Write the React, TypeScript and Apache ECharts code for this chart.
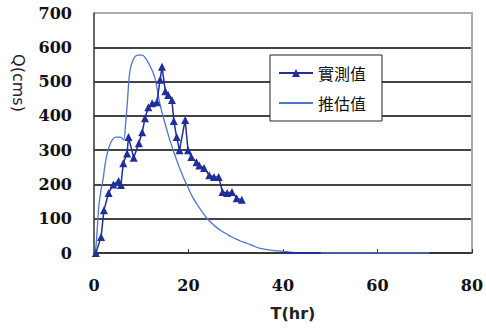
import React, { useEffect, useRef } from "react";
import * as echarts from "echarts";

const obsX = [0.4, 1.5, 2.1, 3.1, 4.1, 5.2, 5.7, 6.2, 7.0, 7.3, 8.4, 9.5, 10.2, 10.8, 11.5, 12.3, 13.3, 14.0, 14.4, 15.1, 15.7, 16.5, 16.9, 17.5, 18.1, 19.3, 19.9, 20.6, 21.7, 22.3, 23.3, 24.4, 25.4, 26.4, 27.2, 28.2, 29.2, 30.2, 31.3];
const obsY = [0, 47, 125, 175, 200, 210, 198, 262, 290, 338, 278, 320, 352, 393, 425, 437, 440, 505, 543, 472, 461, 446, 385, 338, 300, 388, 300, 280, 265, 255, 248, 227, 222, 222, 178, 175, 178, 160, 155];

const tailX = [40, 48];
const tailY = [0, 0];

const estX = [0, 0.4, 1.0, 1.5, 1.9, 2.5, 3.5, 4.6, 5.6, 6.3, 6.7, 7.1, 7.5, 8.1, 9.2, 10.2, 11.2, 12.3, 13, 14, 15, 16, 17, 18, 19, 20, 21, 22, 23, 24, 25, 26, 27, 28, 29, 30, 31, 32, 33, 34, 35, 36, 37, 38, 40, 42, 45, 48, 71];
const estY = [0, 17, 134, 185, 213, 271, 320, 338, 338, 330, 379, 446, 520, 557, 577, 577, 562, 533, 505, 432, 380, 332, 290, 252, 218, 188, 160, 138, 118, 100, 86, 74, 64, 56, 48, 41, 35, 30, 25, 19, 14, 11, 9, 7, 5, 2, 1, 0, 0];

const seriesNames = ["實測值", "推估值"];
const yTitle = "Q(cms)";
const xTitle = "T(hr)";

export default function App() {
  const ref = useRef<HTMLDivElement>(null);
  useEffect(() => {
    document.body.style.margin = "0";
    const chart = echarts.init(ref.current!, null, { renderer: "svg" });
    const labelFont = { fontFamily: "DejaVu Serif", fontWeight: "bold" as const, fontSize: 16, color: "#111" };
    chart.setOption({
      animation: false,
      backgroundColor: "#fff",
      grid: { left: 94, right: 9, top: 13, bottom: 76 },
      xAxis: {
        type: "value",
        min: 0,
        max: 80,
        interval: 20,
        axisLine: { show: true, onZero: false, lineStyle: { color: "#333", width: 1.5 } },
        axisTick: { show: true, inside: true, length: 4, lineStyle: { color: "#333" } },
        splitLine: { show: false },
        axisLabel: { ...labelFont, margin: 24 },
      },
      yAxis: [
        {
          type: "value",
          min: 0,
          max: 700,
          interval: 100,
          axisLine: { show: true, lineStyle: { color: "#333", width: 1.5 } },
          axisTick: { show: false },
          splitLine: {
            show: true,
            lineStyle: { color: ["#444", "#444", "#444", "#444", "#444", "#444", "#444", "#aaa"], width: 2 },
          },
          axisLabel: { ...labelFont, margin: 22, padding: [6, 0, 0, 0] },
        },
        {
          type: "value",
          position: "right",
          min: 0,
          max: 700,
          interval: 100,
          axisLine: { show: true, lineStyle: { color: "#aaa", width: 2 } },
          axisTick: { show: false },
          axisLabel: { show: false },
          splitLine: { show: false },
        },
      ],
      legend: {
        data: [
          { name: seriesNames[0] },
          { name: seriesNames[1], itemStyle: { opacity: 0 } },
        ],
        orient: "vertical",
        left: 270,
        top: 55,
        backgroundColor: "#fff",
        borderColor: "#222",
        borderWidth: 1,
        padding: [10, 16, 10, 8],
        itemGap: 14,
        itemWidth: 34,
        itemHeight: 10,
        textStyle: { fontFamily: "Noto Sans CJK TC", fontSize: 16, color: "#111" },
      },
      graphic: [
        {
          type: "text",
          x: 18,
          y: 83,
          rotation: -Math.PI / 2,
          style: {
            text: yTitle,
            fontFamily: "DejaVu Sans",
            fontSize: 16,
            fill: "#222",
            align: "center",
            verticalAlign: "middle",
          },
        },
        {
          type: "text",
          x: 293,
          y: 313,
          style: {
            text: xTitle,
            fontFamily: "DejaVu Sans",
            fontWeight: "bold",
            fontSize: 16,
            fill: "#222",
            align: "center",
            verticalAlign: "middle",
          },
        },
      ],
      series: [
        {
          name: seriesNames[0],
          type: "line",
          data: obsX.map((x, i) => [x, obsY[i]]),
          symbol: "triangle",
          symbolSize: 8,
          itemStyle: { color: "#1f2e98" },
          lineStyle: { color: "#1f2e98", width: 1.5 },
          z: 3,
        },
        {
          name: seriesNames[1],
          type: "line",
          data: estX.map((x, i) => [x, estY[i]]),
          symbol: "none",
          smooth: 0.3,
          itemStyle: { color: "#4f74d0" },
          lineStyle: { color: "#4f74d0", width: 1.3 },
          z: 2,
        },
        {
          name: "",
          type: "line",
          data: tailX.map((x, i) => [x, tailY[i]]),
          symbol: "none",
          lineStyle: { color: "#1f2e98", width: 2 },
          z: 4,
        },
      ],
    });
    return () => chart.dispose();
  }, []);
  return <div ref={ref} style={{ width: 486, height: 329 }} />;
}
